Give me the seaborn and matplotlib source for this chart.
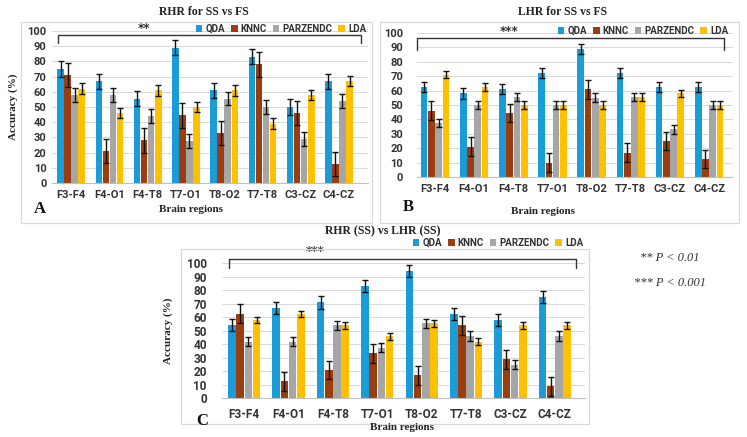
import numpy as np
import pandas as pd
import matplotlib
matplotlib.use("Agg")
import matplotlib.pyplot as plt
from matplotlib.patches import Rectangle
import seaborn as sns

sns.set_theme(style="white")
plt.rcParams['font.family'] = ['Roboto', 'DejaVu Sans']

regions = ["F3-F4", "F4-O1", "F4-T8", "T7-O1", "T8-O2", "T7-T8", "C3-CZ", "C4-CZ"]
classifiers = ["QDA", "KNNC", "PARZENDC", "LDA"]
colors = ["#1B9BD8", "#9A3E10", "#A6A6A6", "#FFC000"]

# Panel A: RHR for SS vs FS
a_qda  = [75, 67, 55.5, 89, 61, 83, 50, 67]
a_knnc = [71, 21, 28, 44.5, 33, 78, 46, 12.5]
a_parz = [58, 58, 44, 27.5, 55.5, 50, 29, 54]
a_lda  = [62, 46, 61, 50, 61, 39, 58, 67]
a_err  = [5, 8, 4.5, 3.5]

# Panel B: LHR for SS vs FS
b_qda  = [62.5, 58, 61, 72, 89, 72, 62.5, 62.5]
b_knnc = [46, 21, 44.5, 10, 61, 17, 25, 12.5]
b_parz = [37.5, 50, 55.5, 50, 55, 55.5, 33, 50]
b_lda  = [71, 62.5, 50, 50, 50, 55.5, 58, 50]
b_err  = [3.5, 6.5, 3, 2.5]

# Panel C: RHR (SS) vs LHR (SS)
c_qda  = [54, 67, 71, 83, 94.5, 62.5, 58, 75]
c_knnc = [62.5, 12.5, 21, 33.5, 17, 54, 29, 9]
c_parz = [42, 42, 54, 37.5, 55.5, 46, 25, 46]
c_lda  = [58, 62.5, 54, 46, 55.5, 42, 54, 54]
c_err  = [4.5, 7, 3.5, 2.5]

yticks = list(range(0, 101, 10))

W, H = 747, 437
fig = plt.figure(figsize=(W / 100, H / 100), dpi=100)
serif = ["Liberation Serif", "DejaVu Serif"]


def rect(x0, x1, ytop, ybot):
    return [x0 / W, 1 - ybot / H, (x1 - x0) / W, (ybot - ytop) / H]


def fx(x):
    return x / W


def fy(y):
    return 1 - y / H


def panel(values, errs, axrect, xlim, ytick_pad, xtick_pad, legend_anchor,
          bracket, star_text, star_pos, tick_size):
    ax = fig.add_axes(rect(*axrect))
    rows = []
    for clf, vals in zip(classifiers, values):
        for reg, v in zip(regions, vals):
            rows.append({"region": reg, "acc": v, "clf": clf})
    df = pd.DataFrame(rows)
    sns.barplot(data=df, x="region", y="acc", hue="clf", order=regions,
                hue_order=classifiers, palette=colors, ax=ax, width=0.74,
                gap=0.08, errorbar=None, saturation=1, linewidth=0)
    for cont, clf, vals, e in zip(ax.containers, classifiers, values, errs):
        xs = [p.get_x() + p.get_width() / 2 for p in cont.patches]
        ax.errorbar(xs, vals, yerr=e, fmt="none", ecolor="#111111",
                    elinewidth=1.0, capsize=2.2, capthick=1.0, zorder=5)
    ax.set_ylim(0, 100)
    ax.set_xlim(*xlim)
    ax.set_yticks(yticks)
    ax.set_yticklabels([str(t) for t in yticks], fontsize=tick_size,
                       fontweight="bold", color="#333333")
    ax.set_xticks(range(len(regions)))
    ax.set_xticklabels(regions, fontsize=tick_size, fontweight="bold",
                       color="#333333")
    ax.tick_params(axis="y", length=0, pad=ytick_pad)
    ax.tick_params(axis="x", length=0, pad=xtick_pad)
    ax.set_xlabel("")
    ax.set_ylabel("")
    ax.grid(axis="y", color="#D9D9D9", linewidth=0.7)
    ax.set_axisbelow(True)
    for s in ["top", "right", "left"]:
        ax.spines[s].set_visible(False)
    ax.spines["bottom"].set_color("#BFBFBF")
    ax.spines["bottom"].set_linewidth(0.8)
    ax.patch.set_alpha(0)
    sns.move_legend(ax, "center right", bbox_to_anchor=legend_anchor,
                    bbox_transform=fig.transFigure, ncol=4, frameon=False,
                    title=None, handlelength=0.7,
                    handleheight=0.7, handletextpad=0.3,
                    columnspacing=0.6, borderpad=0,
                    prop={"weight": "bold", "size": 7})
    for t in ax.get_legend().get_texts():
        t.set_color("#333333")
    # significance bracket
    xl, xr, yh, yl = bracket
    ax.plot([xl, xl, xr, xr], [yl, yh, yh, yl], color="#333333",
            linewidth=1.0, clip_on=False, zorder=6)
    ax.text(star_pos[0], star_pos[1], star_text, ha="center", va="center",
            fontsize=8.5, fontweight="bold", color="#333333", clip_on=False,
            family=["DejaVu Sans"])
    return ax


# panel frames
for x0, y0, x1, y1 in [(21, 22, 372, 223), (380, 22, 739, 223),
                       (181, 249, 589, 424)]:
    fig.add_artist(Rectangle((fx(x0), fy(y1)), fx(x1) - fx(x0),
                             fy(y0) - fy(y1), transform=fig.transFigure,
                             fill=False, edgecolor="#D9D9D9", linewidth=0.9))

# Panel A
panel([a_qda, a_knnc, a_parz, a_lda], a_err, (52, 368, 31, 183),
      (-0.5, 7.76), 4, 5, (fx(371), fy(29)),
      (-0.34, 7.58, 97.4, 92), "**", (1.9, 101.5), 8)
# Panel B
panel([b_qda, b_knnc, b_parz, b_lda], b_err, (417, 733, 33, 177),
      (-0.46, 7.61), 10, 5, (fx(733), fy(31)),
      (-0.46, 7.37, 96.5, 88), "***", (1.9, 101), 8)
# Panel C
panel([c_qda, c_knnc, c_parz, c_lda], c_err, (222, 585, 263.3, 398.3),
      (-0.5, 7.68), 11, 7, (fx(588), fy(243)),
      (-0.35, 7.47, 103, 96.5), "***", (1.6, 108.5), 8.5)

# titles
for x, y, s in [(204, 12, "RHR for SS vs FS"), (563, 12, "LHR for SS vs FS"),
                (383, 231, "RHR (SS) vs LHR (SS)")]:
    fig.text(fx(x), fy(y), s, ha="center", va="center", fontsize=8.5,
             fontweight="bold", family=serif, color="#222222")

# x labels
for x, y in [(191, 209), (543, 211), (402, 427)]:
    fig.text(fx(x), fy(y), "Brain regions", ha="center", va="center",
             fontsize=8, fontweight="bold", family=serif, color="#222222")

# y labels
for x, y in [(13, 107), (168, 331)]:
    fig.text(fx(x), fy(y), "Accuracy (%)", ha="center", va="center",
             rotation=90, fontsize=8, fontweight="bold", family=serif,
             color="#222222")

# panel letters
for x, y, s in [(40, 209, "A"), (408, 207, "B"), (202, 421, "C")]:
    fig.text(fx(x), fy(y), s, ha="center", va="center", fontsize=12,
             fontweight="bold", family=serif, color="#111111")

# p-value legend
fig.text(fx(670), fy(258), "** P < 0.01", ha="center", va="center",
         fontsize=9, style="italic", family=serif, color="#333333")
fig.text(fx(670), fy(283), "*** P < 0.001", ha="center", va="center",
         fontsize=9, style="italic", family=serif, color="#333333")

fig.savefig("out.png", dpi=100)
